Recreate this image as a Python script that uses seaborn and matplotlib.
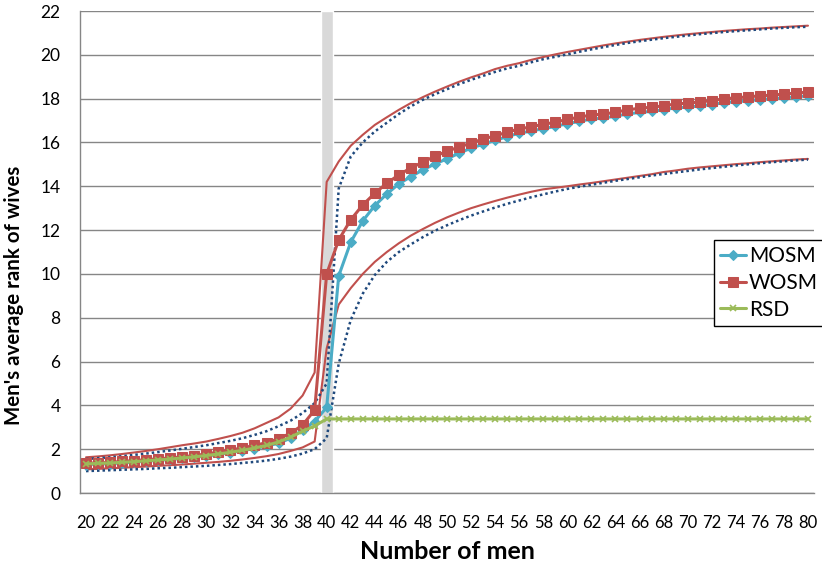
import numpy as np
import pandas as pd
import seaborn as sns
import matplotlib.pyplot as plt

# Number of men (category axis 20..80)
men = list(range(20, 81))

mosm = [1.30, 1.32, 1.34, 1.37, 1.41, 1.45, 1.49, 1.53, 1.58, 1.63,
        1.69, 1.76, 1.84, 1.93, 2.03, 2.14, 2.27, 2.50, 2.88, 3.26,
        3.91, 9.91, 11.45, 12.42, 13.12, 13.65, 14.11, 14.44, 14.75, 15.02,
        15.25, 15.51, 15.74, 15.92, 16.09, 16.27, 16.42, 16.52, 16.63, 16.73,
        16.86, 16.96, 17.07, 17.11, 17.20, 17.30, 17.37, 17.42, 17.49, 17.58,
        17.61, 17.67, 17.73, 17.81, 17.86, 17.90, 17.96, 17.99, 18.04, 18.08,
        18.13]

wosm = [1.36, 1.37, 1.40, 1.44, 1.48, 1.52, 1.56, 1.60, 1.65, 1.71,
        1.78, 1.87, 1.96, 2.06, 2.17, 2.30, 2.47, 2.73, 3.10, 3.79,
        10.00, 11.55, 12.47, 13.15, 13.68, 14.14, 14.52, 14.84, 15.10, 15.37,
        15.60, 15.79, 15.97, 16.16, 16.30, 16.47, 16.62, 16.71, 16.83, 16.92,
        17.06, 17.15, 17.26, 17.29, 17.38, 17.49, 17.56, 17.61, 17.67, 17.76,
        17.79, 17.85, 17.91, 17.99, 18.04, 18.08, 18.13, 18.16, 18.21, 18.25,
        18.30]

rsd = [1.33, 1.35, 1.37, 1.40, 1.43, 1.47, 1.51, 1.55, 1.60, 1.65,
       1.71, 1.78, 1.86, 1.95, 2.05, 2.17, 2.33, 2.55, 2.82, 3.06,
       3.38, 3.38, 3.38, 3.38, 3.38, 3.38, 3.38, 3.38, 3.38, 3.38,
       3.38, 3.38, 3.38, 3.38, 3.38, 3.38, 3.38, 3.38, 3.38, 3.38,
       3.38, 3.38, 3.38, 3.38, 3.38, 3.38, 3.38, 3.38, 3.38, 3.38,
       3.38, 3.38, 3.38, 3.38, 3.38, 3.38, 3.38, 3.38, 3.38, 3.38,
       3.38]

# envelope curves (red solid = WOSM, blue dotted = MOSM)
wosm_hi = [1.63, 1.67, 1.72, 1.78, 1.85, 1.92, 2.00, 2.09, 2.18, 2.26,
           2.35, 2.47, 2.60, 2.75, 2.95, 3.20, 3.45, 3.85, 4.45, 5.50,
           14.20, 15.13, 15.85, 16.35, 16.80, 17.15, 17.49, 17.80, 18.07, 18.32,
           18.55, 18.77, 18.97, 19.15, 19.35, 19.50, 19.62, 19.77, 19.90, 20.02,
           20.13, 20.23, 20.33, 20.43, 20.52, 20.60, 20.68, 20.75, 20.82, 20.88,
           20.94, 20.99, 21.04, 21.09, 21.13, 21.17, 21.20, 21.24, 21.27, 21.30,
           21.33]

mosm_hi = [1.55, 1.59, 1.63, 1.68, 1.74, 1.80, 1.87, 1.94, 2.02, 2.10,
           2.18, 2.28, 2.38, 2.50, 2.65, 2.82, 3.05, 3.30, 3.65, 4.10,
           5.00, 13.90, 15.36, 16.00, 16.50, 16.90, 17.30, 17.65, 17.95, 18.20,
           18.43, 18.66, 18.86, 19.04, 19.22, 19.38, 19.50, 19.66, 19.80, 19.91,
           20.02, 20.14, 20.25, 20.35, 20.45, 20.54, 20.62, 20.69, 20.76, 20.82,
           20.88, 20.94, 20.99, 21.04, 21.08, 21.12, 21.16, 21.20, 21.23, 21.26,
           21.28]

wosm_lo = [1.08, 1.10, 1.13, 1.15, 1.18, 1.21, 1.24, 1.27, 1.30, 1.34,
           1.38, 1.42, 1.47, 1.53, 1.60, 1.68, 1.78, 1.92, 2.08, 2.35,
           6.60, 8.60, 9.35, 10.00, 10.55, 11.00, 11.40, 11.75, 12.05, 12.33,
           12.58, 12.80, 13.00, 13.17, 13.33, 13.48, 13.62, 13.75, 13.86, 13.93,
           14.00, 14.08, 14.15, 14.23, 14.31, 14.39, 14.47, 14.55, 14.65, 14.72,
           14.80, 14.86, 14.91, 14.96, 15.01, 15.05, 15.10, 15.14, 15.18, 15.22,
           15.25]

mosm_lo = [1.00, 1.02, 1.04, 1.06, 1.08, 1.10, 1.13, 1.15, 1.18, 1.21,
           1.24, 1.28, 1.32, 1.37, 1.42, 1.48, 1.56, 1.66, 1.80, 2.00,
           2.50, 5.90, 7.90, 9.10, 9.95, 10.55, 11.00, 11.35, 11.68, 11.97,
           12.22, 12.45, 12.66, 12.85, 13.03, 13.20, 13.35, 13.50, 13.63, 13.76,
           13.88, 13.98, 14.07, 14.16, 14.25, 14.33, 14.41, 14.49, 14.56, 14.63,
           14.70, 14.77, 14.83, 14.89, 14.95, 15.00, 15.05, 15.10, 15.14, 15.18,
           15.22]

highlight_x = [40]
highlight_h = [22]

sns.set_style('white')
plt.rcParams['font.family'] = ['Lato', 'DejaVu Sans']
plt.rcParams['text.color'] = 'black'
plt.rcParams['axes.labelcolor'] = 'black'

fig = plt.figure(figsize=(8.22, 5.61), dpi=100)
ax = fig.add_axes([80 / 822, 1 - 493 / 561, 734 / 822, 482 / 561])

grey = '#868686'
ax.bar(highlight_x, highlight_h, width=1.0, color='#d9d9d9', zorder=1)

red = '#c0504d'
blue_dark = '#1f497d'
sns.lineplot(x=men, y=wosm_hi, ax=ax, color=red, linewidth=1.5, legend=False, zorder=2)
sns.lineplot(x=men, y=wosm_lo, ax=ax, color=red, linewidth=1.5, legend=False, zorder=2)
sns.lineplot(x=men, y=mosm_hi, ax=ax, color=blue_dark, linewidth=1.8,
             linestyle=(0, (1, 1.2)), legend=False, zorder=2)
sns.lineplot(x=men, y=mosm_lo, ax=ax, color=blue_dark, linewidth=1.8,
             linestyle=(0, (1, 1.2)), legend=False, zorder=2)

sns.lineplot(x=men, y=mosm, ax=ax, color='#4bacc6', linewidth=2.2, marker='D',
             markersize=5, markeredgecolor='#4bacc6', label='MOSM', zorder=3)
sns.lineplot(x=men, y=wosm, ax=ax, color=red, linewidth=2.2, marker='s',
             markersize=7, markeredgecolor=red, label='WOSM', zorder=4)
sns.lineplot(x=men, y=rsd, ax=ax, color='#9bbb59', linewidth=2.2, marker='x',
             markersize=5, markeredgewidth=1.2, markeredgecolor='#9bbb59',
             label='RSD', zorder=5)

ax.set_xlim(19.5, 80.5)
ax.set_ylim(0, 22)
ax.set_yticks(range(0, 23, 2))
ax.set_xticks(range(20, 81, 2))
ax.set_xticks(np.arange(19.5, 81, 1), minor=True)
ax.tick_params(axis='x', which='major', length=0, pad=16, labelsize=12, labelcolor='black')
ax.tick_params(axis='x', which='minor', length=5, color=grey, width=1, direction='out')
ax.tick_params(axis='y', length=5, color=grey, width=1, direction='out', pad=9,
               labelsize=12.5, labelcolor='black')

ax.grid(axis='y', color=grey, linewidth=1)
ax.grid(axis='x', visible=False)
ax.set_axisbelow(True)
for s in ['top', 'right']:
    ax.spines[s].set_visible(False)
for s in ['left', 'bottom']:
    ax.spines[s].set_color(grey)
    ax.spines[s].set_linewidth(1)

ax.set_xlabel('Number of men', fontsize=18, fontweight='bold', labelpad=6)
ax.set_ylabel('')
fig.text(14 / 822, 1 - 295 / 561, "Men's average rank of wives", rotation=90,
         ha='center', va='center', fontsize=14.8, fontweight='bold')

leg = ax.legend(loc='upper left', bbox_to_anchor=(714 / 822, 1 - 240 / 561),
                bbox_transform=fig.transFigure, fontsize=15, frameon=True,
                fancybox=False, borderpad=0.3, labelspacing=0.32,
                handlelength=1.25, handletextpad=0.12, borderaxespad=0)
leg.get_frame().set_edgecolor('black')
leg.get_frame().set_linewidth(1)
leg.get_frame().set_alpha(1)

fig.savefig('out.png', dpi=100)
